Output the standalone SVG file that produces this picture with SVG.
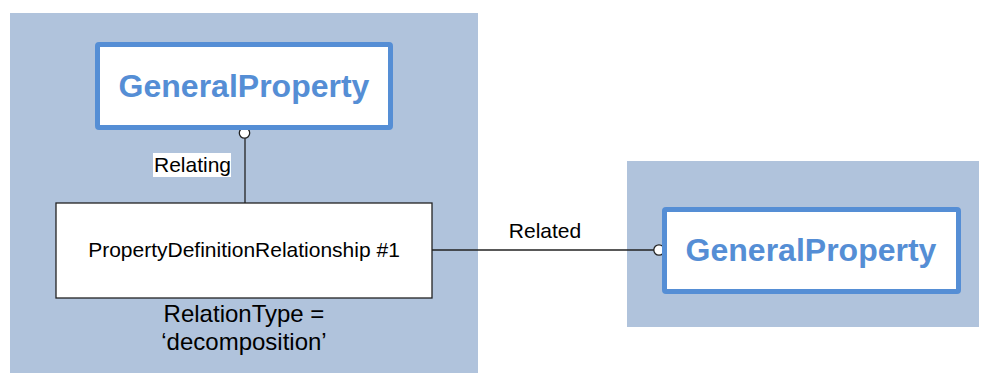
<svg xmlns="http://www.w3.org/2000/svg" width="992" height="374" viewBox="0 0 992 374">
<style>
.panel{fill:#B0C3DC}
.gp{fill:#fff;stroke:#558ED5;stroke-width:5}
.gpt{font-family:"Liberation Sans",Arial,sans-serif;font-weight:bold;font-size:32px;fill:#558ED5;text-anchor:middle}
.t{font-family:"Liberation Sans",Arial,sans-serif;font-size:21px;fill:#000}
.line{stroke:#222;stroke-width:1.3;fill:none}
.end{fill:#fff;stroke:#222;stroke-width:1.3}
</style>
<rect width="992" height="374" fill="#fff"/>
<rect class="panel" x="10" y="13" width="468" height="360"/>
<rect class="panel" x="627" y="161" width="352" height="166"/>
<g id="connectors">
<line class="line" x1="245" y1="138" x2="245" y2="203"/>
<circle class="end" cx="244.5" cy="133" r="5.2"/>
<rect x="153" y="153" width="78" height="24" fill="#fff"/>
<text class="t" x="154" y="172">Relating</text>
<line class="line" x1="432" y1="250" x2="654" y2="250"/>
<circle class="end" cx="659" cy="250" r="5.2"/>
<text class="t" x="545" y="238" text-anchor="middle">Related</text>
</g>
<g id="gp1">
<rect class="gp" x="97.5" y="44.5" width="293" height="83" rx="1.5"/>
<text class="gpt" x="244" y="97">GeneralProperty</text>
</g>
<g id="pdr">
<rect x="56" y="203" width="376" height="95" fill="#fff" stroke="#222" stroke-width="1.3"/>
<text class="t" x="244" y="257" text-anchor="middle">PropertyDefinitionRelationship #1</text>
<text class="t" x="244" y="322" text-anchor="middle" style="font-size:24px">RelationType =</text>
<text class="t" x="244" y="350" text-anchor="middle" style="font-size:24px">‘decomposition’</text>
</g>
<g id="gp2">
<rect class="gp" x="664.5" y="209.5" width="294" height="82" rx="1.5"/>
<text class="gpt" x="811" y="261">GeneralProperty</text>
</g>
</svg>
